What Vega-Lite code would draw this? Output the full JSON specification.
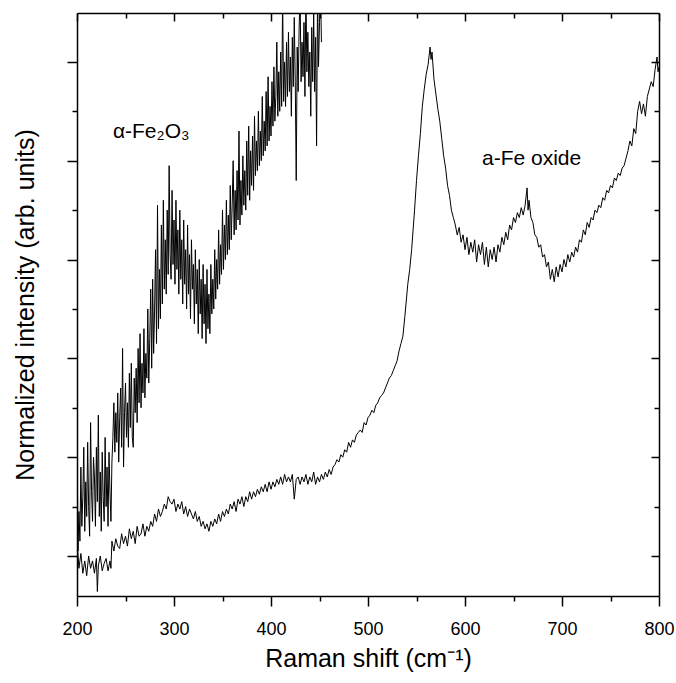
{
  "$schema": "https://vega.github.io/schema/vega-lite/v6.json",
  "width": 582,
  "height": 583,
  "autosize": "none",
  "padding": {"left": 77, "top": 13, "right": 17, "bottom": 87},
  "background": "white",
  "config": {"view": {"stroke": null}, "font": "Liberation Sans"},
  "datasets": {
    "lower": [
      {"x":200,"y":0.3},{"x":202,"y":-0.25},{"x":204,"y":0.05},{"x":206,"y":-0.35},{"x":208,"y":-0.1},{"x":210,"y":-0.4},{"x":212,"y":0.0},{"x":214,"y":-0.25},{"x":216,"y":-0.1},{"x":218,"y":-0.35},{"x":220,"y":-0.05},{"x":221,"y":-0.72},{"x":222,"y":-0.2},{"x":224,"y":0.0},{"x":226,"y":-0.3},{"x":228,"y":-0.15},{"x":230,"y":-0.05},{"x":232,"y":-0.3},{"x":234,"y":-0.1},{"x":235,"y":-0.25},{"x":236,"y":0.3},{"x":238,"y":0.1},{"x":240,"y":0.35},{"x":242,"y":0.2},{"x":244,"y":0.15},{"x":246,"y":0.45},{"x":248,"y":0.25},{"x":250,"y":0.4},{"x":252,"y":0.2},{"x":254,"y":0.55},{"x":256,"y":0.35},{"x":258,"y":0.5},{"x":260,"y":0.25},{"x":262,"y":0.6},{"x":264,"y":0.4},{"x":266,"y":0.45},{"x":268,"y":0.65},{"x":270,"y":0.4},{"x":272,"y":0.6},{"x":274,"y":0.5},{"x":276,"y":0.7},{"x":278,"y":0.6},{"x":280,"y":0.85},{"x":282,"y":0.7},{"x":284,"y":0.95},{"x":286,"y":0.8},{"x":288,"y":0.9},{"x":290,"y":1.05},{"x":292,"y":0.95},{"x":294,"y":1.2},{"x":296,"y":1.1},{"x":298,"y":1.05},{"x":300,"y":1.15},{"x":302,"y":0.9},{"x":304,"y":1.05},{"x":306,"y":0.95},{"x":308,"y":1.1},{"x":310,"y":0.85},{"x":312,"y":1.0},{"x":314,"y":0.8},{"x":316,"y":0.95},{"x":318,"y":0.85},{"x":320,"y":0.75},{"x":322,"y":0.9},{"x":324,"y":0.7},{"x":326,"y":0.8},{"x":328,"y":0.6},{"x":330,"y":0.7},{"x":332,"y":0.55},{"x":334,"y":0.65},{"x":336,"y":0.5},{"x":338,"y":0.7},{"x":340,"y":0.6},{"x":342,"y":0.75},{"x":344,"y":0.65},{"x":346,"y":0.85},{"x":348,"y":0.7},{"x":350,"y":0.9},{"x":352,"y":0.8},{"x":354,"y":0.95},{"x":356,"y":0.85},{"x":358,"y":1.05},{"x":360,"y":0.95},{"x":362,"y":1.1},{"x":364,"y":0.9},{"x":366,"y":1.15},{"x":368,"y":1.05},{"x":370,"y":1.2},{"x":372,"y":1.0},{"x":374,"y":1.2},{"x":376,"y":1.1},{"x":378,"y":1.3},{"x":380,"y":1.15},{"x":382,"y":1.3},{"x":384,"y":1.2},{"x":386,"y":1.35},{"x":388,"y":1.25},{"x":390,"y":1.4},{"x":392,"y":1.3},{"x":394,"y":1.45},{"x":396,"y":1.3},{"x":398,"y":1.5},{"x":400,"y":1.35},{"x":402,"y":1.5},{"x":404,"y":1.4},{"x":406,"y":1.55},{"x":408,"y":1.45},{"x":410,"y":1.6},{"x":412,"y":1.45},{"x":414,"y":1.65},{"x":416,"y":1.5},{"x":418,"y":1.6},{"x":420,"y":1.5},{"x":422,"y":1.65},{"x":424,"y":1.15},{"x":426,"y":1.55},{"x":428,"y":1.6},{"x":430,"y":1.45},{"x":432,"y":1.6},{"x":434,"y":1.5},{"x":436,"y":1.65},{"x":438,"y":1.45},{"x":440,"y":1.6},{"x":442,"y":1.5},{"x":444,"y":1.7},{"x":446,"y":1.45},{"x":448,"y":1.6},{"x":450,"y":1.5},{"x":452,"y":1.65},{"x":454,"y":1.55},{"x":456,"y":1.7},{"x":458,"y":1.6},{"x":460,"y":1.75},{"x":462,"y":1.65},{"x":464,"y":1.8},{"x":466,"y":1.85},{"x":468,"y":1.95},{"x":470,"y":1.9},{"x":472,"y":2.05},{"x":474,"y":2.0},{"x":476,"y":2.15},{"x":478,"y":2.1},{"x":480,"y":2.3},{"x":482,"y":2.2},{"x":484,"y":2.35},{"x":486,"y":2.3},{"x":488,"y":2.45},{"x":490,"y":2.5},{"x":492,"y":2.55},{"x":494,"y":2.5},{"x":496,"y":2.7},{"x":498,"y":2.65},{"x":500,"y":2.8},{"x":502,"y":2.85},{"x":504,"y":2.95},{"x":506,"y":2.9},{"x":508,"y":3.05},{"x":510,"y":3.1},{"x":512,"y":3.2},{"x":514,"y":3.25},{"x":516,"y":3.3},{"x":518,"y":3.4},{"x":520,"y":3.5},{"x":522,"y":3.6},{"x":524,"y":3.65},{"x":526,"y":3.75},{"x":528,"y":3.85},{"x":530,"y":3.95},{"x":532,"y":4.15},{"x":534,"y":4.3},{"x":536,"y":4.45},{"x":538,"y":4.85},{"x":541,"y":5.5},{"x":543,"y":5.8},{"x":545,"y":6.2},{"x":548,"y":7.0},{"x":550,"y":7.6},{"x":552,"y":8.1},{"x":554,"y":8.55},{"x":556,"y":9.1},{"x":558,"y":9.45},{"x":560,"y":9.75},{"x":562,"y":9.95},{"x":564,"y":10.3},{"x":565,"y":10.05},{"x":566,"y":10.2},{"x":568,"y":9.65},{"x":570,"y":9.35},{"x":572,"y":9.05},{"x":574,"y":8.8},{"x":576,"y":8.45},{"x":578,"y":8.1},{"x":580,"y":7.85},{"x":582,"y":7.5},{"x":584,"y":7.3},{"x":586,"y":7.0},{"x":588,"y":6.85},{"x":590,"y":6.7},{"x":592,"y":6.5},{"x":594,"y":6.65},{"x":596,"y":6.35},{"x":598,"y":6.5},{"x":600,"y":6.2},{"x":602,"y":6.45},{"x":604,"y":6.1},{"x":606,"y":6.35},{"x":608,"y":6.15},{"x":610,"y":6.4},{"x":612,"y":5.95},{"x":614,"y":6.3},{"x":616,"y":6.1},{"x":618,"y":6.35},{"x":620,"y":5.9},{"x":622,"y":6.25},{"x":624,"y":5.85},{"x":626,"y":6.2},{"x":628,"y":6.0},{"x":630,"y":6.25},{"x":632,"y":5.95},{"x":634,"y":6.3},{"x":636,"y":6.15},{"x":638,"y":6.45},{"x":640,"y":6.3},{"x":642,"y":6.55},{"x":644,"y":6.4},{"x":646,"y":6.7},{"x":648,"y":6.6},{"x":650,"y":6.85},{"x":652,"y":6.75},{"x":654,"y":6.95},{"x":656,"y":6.85},{"x":658,"y":7.05},{"x":660,"y":6.9},{"x":662,"y":7.1},{"x":664,"y":7.45},{"x":665,"y":7.0},{"x":666,"y":7.2},{"x":668,"y":6.85},{"x":670,"y":6.75},{"x":672,"y":6.5},{"x":674,"y":6.45},{"x":676,"y":6.25},{"x":678,"y":6.3},{"x":680,"y":6.05},{"x":682,"y":6.1},{"x":684,"y":5.85},{"x":686,"y":5.95},{"x":688,"y":5.6},{"x":690,"y":5.8},{"x":692,"y":5.55},{"x":694,"y":5.85},{"x":696,"y":5.65},{"x":698,"y":5.9},{"x":700,"y":5.75},{"x":702,"y":6.0},{"x":704,"y":5.85},{"x":706,"y":6.1},{"x":708,"y":5.95},{"x":710,"y":6.15},{"x":712,"y":6.05},{"x":714,"y":6.25},{"x":716,"y":6.15},{"x":718,"y":6.4},{"x":720,"y":6.35},{"x":722,"y":6.6},{"x":724,"y":6.5},{"x":726,"y":6.75},{"x":728,"y":6.65},{"x":730,"y":6.85},{"x":732,"y":6.8},{"x":734,"y":7.0},{"x":736,"y":6.95},{"x":738,"y":7.1},{"x":740,"y":7.05},{"x":742,"y":7.25},{"x":744,"y":7.2},{"x":746,"y":7.4},{"x":748,"y":7.35},{"x":750,"y":7.5},{"x":752,"y":7.45},{"x":754,"y":7.65},{"x":756,"y":7.6},{"x":758,"y":7.75},{"x":760,"y":7.7},{"x":762,"y":7.85},{"x":764,"y":7.9},{"x":766,"y":8.05},{"x":768,"y":8.2},{"x":770,"y":8.4},{"x":772,"y":8.3},{"x":774,"y":8.65},{"x":776,"y":8.55},{"x":778,"y":9.0},{"x":780,"y":9.2},{"x":782,"y":8.95},{"x":784,"y":9.15},{"x":786,"y":8.9},{"x":788,"y":9.3},{"x":790,"y":9.45},{"x":792,"y":9.6},{"x":794,"y":9.5},{"x":796,"y":9.85},{"x":798,"y":10.1},{"x":799,"y":9.8},{"x":800,"y":9.9}
    ],
    "upper": [
      {"x":200,"y":2.6},{"x":201,"y":0.1},{"x":202,"y":0.9},{"x":203,"y":0.3},{"x":204,"y":1.8},{"x":205,"y":0.6},{"x":206,"y":1.2},{"x":207,"y":2.2},{"x":208,"y":0.5},{"x":209,"y":1.5},{"x":210,"y":0.8},{"x":211,"y":2.3},{"x":212,"y":1.0},{"x":213,"y":0.4},{"x":214,"y":2.7},{"x":215,"y":1.3},{"x":216,"y":0.7},{"x":217,"y":2.0},{"x":218,"y":1.6},{"x":219,"y":0.6},{"x":220,"y":2.2},{"x":221,"y":1.1},{"x":222,"y":2.85},{"x":223,"y":0.8},{"x":224,"y":1.7},{"x":225,"y":0.5},{"x":226,"y":2.1},{"x":227,"y":1.2},{"x":228,"y":0.7},{"x":229,"y":2.4},{"x":230,"y":1.0},{"x":231,"y":1.8},{"x":232,"y":0.6},{"x":233,"y":2.1},{"x":234,"y":1.3},{"x":235,"y":0.7},{"x":236,"y":1.9},{"x":237,"y":2.4},{"x":238,"y":3.1},{"x":239,"y":2.1},{"x":240,"y":2.9},{"x":241,"y":2.3},{"x":242,"y":3.3},{"x":243,"y":1.9},{"x":244,"y":2.8},{"x":245,"y":3.4},{"x":246,"y":2.2},{"x":247,"y":4.2},{"x":248,"y":1.8},{"x":249,"y":2.9},{"x":250,"y":3.5},{"x":251,"y":2.4},{"x":252,"y":3.1},{"x":253,"y":2.2},{"x":254,"y":3.7},{"x":255,"y":2.6},{"x":256,"y":3.9},{"x":257,"y":2.4},{"x":258,"y":2.2},{"x":259,"y":3.6},{"x":260,"y":2.9},{"x":261,"y":3.8},{"x":262,"y":2.7},{"x":263,"y":4.2},{"x":264,"y":3.1},{"x":265,"y":4.5},{"x":266,"y":3.0},{"x":267,"y":3.9},{"x":268,"y":3.3},{"x":269,"y":4.6},{"x":270,"y":3.2},{"x":271,"y":4.1},{"x":272,"y":3.6},{"x":273,"y":5.0},{"x":274,"y":3.5},{"x":275,"y":4.4},{"x":276,"y":5.4},{"x":277,"y":3.8},{"x":278,"y":5.6},{"x":279,"y":4.1},{"x":280,"y":5.0},{"x":281,"y":6.2},{"x":282,"y":4.3},{"x":283,"y":7.1},{"x":284,"y":4.6},{"x":285,"y":5.8},{"x":286,"y":4.8},{"x":287,"y":6.7},{"x":288,"y":5.1},{"x":289,"y":7.2},{"x":290,"y":5.4},{"x":291,"y":6.4},{"x":292,"y":5.3},{"x":293,"y":7.0},{"x":294,"y":5.7},{"x":295,"y":7.9},{"x":296,"y":6.1},{"x":297,"y":5.6},{"x":298,"y":7.4},{"x":299,"y":5.9},{"x":300,"y":6.8},{"x":301,"y":5.5},{"x":302,"y":7.2},{"x":303,"y":5.8},{"x":304,"y":6.6},{"x":305,"y":5.3},{"x":306,"y":7.0},{"x":307,"y":5.6},{"x":308,"y":6.4},{"x":309,"y":5.1},{"x":310,"y":6.8},{"x":311,"y":5.5},{"x":312,"y":6.2},{"x":313,"y":5.0},{"x":314,"y":6.7},{"x":315,"y":5.3},{"x":316,"y":6.1},{"x":317,"y":4.8},{"x":318,"y":6.4},{"x":319,"y":5.4},{"x":320,"y":5.9},{"x":321,"y":4.7},{"x":322,"y":6.2},{"x":323,"y":5.1},{"x":324,"y":5.8},{"x":325,"y":4.5},{"x":326,"y":6.0},{"x":327,"y":4.9},{"x":328,"y":5.6},{"x":329,"y":4.4},{"x":330,"y":5.9},{"x":331,"y":4.7},{"x":332,"y":5.5},{"x":333,"y":4.3},{"x":334,"y":5.8},{"x":335,"y":4.6},{"x":336,"y":5.3},{"x":337,"y":4.5},{"x":338,"y":5.9},{"x":339,"y":4.9},{"x":340,"y":5.6},{"x":341,"y":5.0},{"x":342,"y":6.2},{"x":343,"y":5.2},{"x":344,"y":6.0},{"x":345,"y":5.4},{"x":346,"y":6.6},{"x":347,"y":5.5},{"x":348,"y":6.3},{"x":349,"y":5.7},{"x":350,"y":7.0},{"x":351,"y":5.8},{"x":352,"y":6.7},{"x":353,"y":6.0},{"x":354,"y":7.2},{"x":355,"y":6.1},{"x":356,"y":6.9},{"x":357,"y":6.2},{"x":358,"y":7.5},{"x":359,"y":6.4},{"x":360,"y":7.1},{"x":361,"y":8.0},{"x":362,"y":6.5},{"x":363,"y":7.4},{"x":364,"y":6.6},{"x":365,"y":7.8},{"x":366,"y":6.8},{"x":367,"y":8.6},{"x":368,"y":6.7},{"x":369,"y":7.6},{"x":370,"y":6.9},{"x":371,"y":8.1},{"x":372,"y":7.1},{"x":373,"y":7.8},{"x":374,"y":7.0},{"x":375,"y":8.4},{"x":376,"y":7.3},{"x":377,"y":8.7},{"x":378,"y":7.2},{"x":379,"y":8.2},{"x":380,"y":7.5},{"x":381,"y":8.5},{"x":382,"y":7.4},{"x":383,"y":8.9},{"x":384,"y":7.7},{"x":385,"y":8.4},{"x":386,"y":7.8},{"x":387,"y":9.0},{"x":388,"y":7.9},{"x":389,"y":8.6},{"x":390,"y":8.0},{"x":391,"y":9.3},{"x":392,"y":8.1},{"x":393,"y":8.8},{"x":394,"y":8.2},{"x":395,"y":9.4},{"x":396,"y":8.3},{"x":397,"y":9.7},{"x":398,"y":8.4},{"x":399,"y":9.1},{"x":400,"y":8.5},{"x":401,"y":9.6},{"x":402,"y":8.7},{"x":403,"y":9.9},{"x":404,"y":8.8},{"x":405,"y":9.3},{"x":406,"y":10.4},{"x":407,"y":8.9},{"x":408,"y":9.8},{"x":409,"y":9.0},{"x":410,"y":10.2},{"x":411,"y":9.1},{"x":412,"y":11.3},{"x":413,"y":9.2},{"x":414,"y":10.0},{"x":415,"y":9.1},{"x":416,"y":10.4},{"x":417,"y":9.3},{"x":418,"y":10.6},{"x":419,"y":9.4},{"x":420,"y":10.1},{"x":421,"y":8.9},{"x":422,"y":10.5},{"x":423,"y":9.5},{"x":424,"y":10.9},{"x":425,"y":9.6},{"x":426,"y":7.6},{"x":427,"y":10.3},{"x":428,"y":9.4},{"x":429,"y":10.7},{"x":430,"y":11.4},{"x":431,"y":9.6},{"x":432,"y":10.4},{"x":433,"y":9.7},{"x":434,"y":10.8},{"x":435,"y":9.3},{"x":436,"y":11.5},{"x":437,"y":9.8},{"x":438,"y":10.6},{"x":439,"y":9.5},{"x":440,"y":10.2},{"x":441,"y":8.9},{"x":442,"y":10.7},{"x":443,"y":9.6},{"x":444,"y":11.0},{"x":445,"y":9.4},{"x":446,"y":10.5},{"x":447,"y":8.3},{"x":448,"y":11.4},{"x":449,"y":9.9},{"x":450,"y":10.8},{"x":451,"y":11.5},{"x":452,"y":10.4}
    ],
    "labels": [
      {"x":237,"y":8.46,"t":"α-Fe₂O₃"},
      {"x":617.5,"y":7.91,"t":"a-Fe oxide"}
    ]
  },
  "resolve": {"axis": {"x": "independent", "y": "independent"}},
  "layer": [
    {
      "data": {"name": "lower"},
      "mark": {"type": "line", "color": "black", "strokeWidth": 1, "clip": true},
      "encoding": {
        "x": {"field": "x", "type": "quantitative",
          "scale": {"domain": [200, 800], "nice": false, "zero": false},
          "axis": {"orient": "bottom", "values": [200,250,300,350,400,450,500,550,600,650,700,750,800],
            "labelExpr": "datum.value % 100 === 0 ? datum.label : ''",
            "tickSize": {"condition": {"test": "datum.value % 100 === 0", "value": 10}, "value": 5},
            "title": "Raman shift (cm⁻¹)", "titleFontSize": 25, "titleFontWeight": "normal", "titleColor": "black",
            "titleFont": "Liberation Sans", "labelFont": "Liberation Sans",
            "labelFontSize": 18, "labelColor": "black", "labelPadding": 14, "titlePadding": 8,
            "labelFlush": false, "labelOverlap": false, "grid": false,
            "domainColor": "black", "domainWidth": 1.5, "tickColor": "black", "tickWidth": 1.5}},
        "y": {"field": "y", "type": "quantitative",
          "scale": {"domain": [-0.81, 10.99], "nice": false, "zero": false},
          "axis": {"orient": "left", "values": [0,1,2,3,4,5,6,7,8,9,10], "labels": false,
            "tickSize": {"condition": {"test": "datum.value % 2 === 0", "value": 10}, "value": 5},
            "title": "Normalized intensity (arb. units)", "titleFontSize": 25, "titleFontWeight": "normal",
            "titleColor": "black", "titleFont": "Liberation Sans", "titlePadding": 28, "grid": false,
            "domainColor": "black", "domainWidth": 1.5, "tickColor": "black", "tickWidth": 1.5}}
      }
    },
    {
      "data": {"name": "upper"},
      "mark": {"type": "line", "color": "black", "strokeWidth": 1, "clip": true},
      "encoding": {
        "x": {"field": "x", "type": "quantitative",
          "scale": {"domain": [200, 800], "nice": false, "zero": false},
          "axis": {"orient": "top", "values": [200,250,300,350,400,450,500,550,600,650,700,750,800],
            "labels": false, "title": null, "grid": false,
            "tickSize": {"condition": {"test": "datum.value % 100 === 0", "value": -8}, "value": -5},
            "domainColor": "black", "domainWidth": 1.5, "tickColor": "black", "tickWidth": 1.5}},
        "y": {"field": "y", "type": "quantitative",
          "scale": {"domain": [-0.81, 10.99], "nice": false, "zero": false},
          "axis": {"orient": "right", "values": [0,1,2,3,4,5,6,7,8,9,10], "labels": false, "title": null, "grid": false,
            "tickSize": {"condition": {"test": "datum.value % 2 === 0", "value": -8}, "value": -5},
            "domainColor": "black", "domainWidth": 1.5, "tickColor": "black", "tickWidth": 1.5}}
      }
    },
    {
      "data": {"name": "labels"},
      "mark": {"type": "text", "align": "left", "baseline": "alphabetic", "fontSize": 21, "font": "Liberation Sans", "color": "black"},
      "encoding": {
        "x": {"field": "x", "type": "quantitative", "scale": {"domain": [200, 800], "nice": false, "zero": false}, "axis": null},
        "y": {"field": "y", "type": "quantitative", "scale": {"domain": [-0.81, 10.99], "nice": false, "zero": false}, "axis": null},
        "text": {"field": "t"}
      }
    }
  ]
}
